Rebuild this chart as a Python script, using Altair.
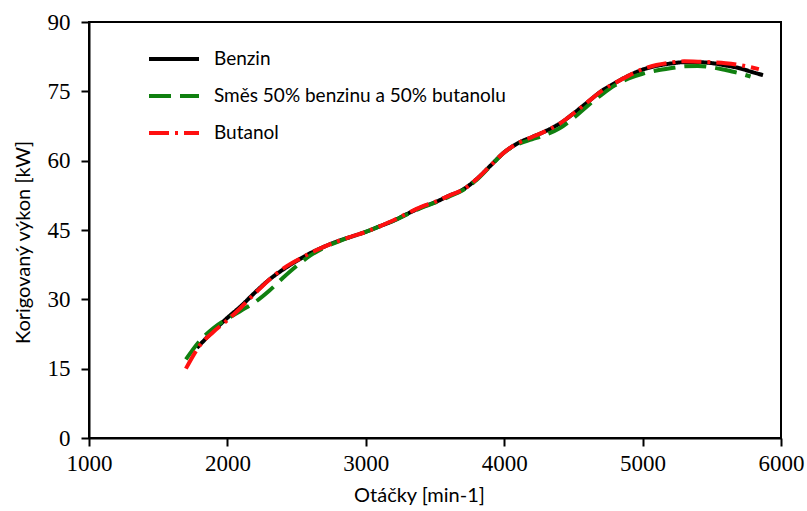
import altair as alt
import pandas as pd

series_names = ["Benzin", "Směs 50% benzinu a 50% butanolu", "Butanol"]
series_colors = ["#000000", "#108010", "#ff1010"]

benzin_rpm = [1780, 1900, 2000, 2100, 2200, 2300, 2400, 2500, 2600, 2700, 2800, 2900, 3000, 3100, 3200, 3300, 3400, 3500, 3600, 3700, 3800, 3900, 4000, 4100, 4200, 4300, 4400, 4500, 4600, 4700, 4800, 4900, 5000, 5100, 5200, 5300, 5400, 5500, 5600, 5700, 5800, 5870]
benzin_kw = [19.5, 23.2, 26.0, 28.6, 31.5, 34.2, 36.4, 38.3, 40.0, 41.4, 42.6, 43.6, 44.6, 45.8, 47.0, 48.5, 49.9, 51.0, 52.4, 53.7, 56.0, 58.9, 61.8, 63.8, 65.1, 66.4, 68.0, 70.2, 72.6, 75.0, 76.8, 78.4, 79.7, 80.5, 81.0, 81.3, 81.3, 81.1, 80.6, 80.0, 79.1, 78.5]

smes_rpm = [1700, 1800, 1900, 2000, 2100, 2200, 2300, 2400, 2500, 2600, 2700, 2800, 2900, 3000, 3100, 3200, 3300, 3400, 3500, 3600, 3700, 3800, 3900, 4000, 4100, 4200, 4300, 4400, 4500, 4600, 4700, 4800, 4900, 5000, 5100, 5200, 5300, 5400, 5500, 5600, 5700, 5780]
smes_kw = [17.0, 21.0, 23.8, 25.8, 27.6, 29.4, 31.8, 34.6, 37.2, 39.5, 41.2, 42.5, 43.6, 44.6, 45.8, 47.0, 48.4, 49.8, 50.9, 52.2, 53.6, 55.8, 58.8, 61.8, 63.6, 64.6, 65.6, 67.0, 69.2, 71.8, 74.2, 76.3, 77.8, 78.8, 79.5, 80.0, 80.4, 80.5, 80.2, 79.6, 78.9, 78.2]

butanol_rpm = [1700, 1800, 1900, 2000, 2100, 2200, 2300, 2400, 2500, 2600, 2700, 2800, 2900, 3000, 3100, 3200, 3300, 3400, 3500, 3600, 3700, 3800, 3900, 4000, 4100, 4200, 4300, 4400, 4500, 4600, 4700, 4800, 4900, 5000, 5100, 5200, 5300, 5400, 5500, 5600, 5700, 5840]
butanol_kw = [15.0, 20.0, 23.0, 25.5, 28.3, 31.3, 34.2, 36.6, 38.4, 40.0, 41.4, 42.6, 43.6, 44.6, 45.8, 47.1, 48.6, 50.0, 51.1, 52.4, 53.7, 56.0, 58.9, 61.8, 63.8, 65.1, 66.4, 68.0, 70.2, 72.6, 75.0, 76.8, 78.4, 79.8, 80.7, 81.2, 81.5, 81.4, 81.3, 81.1, 80.7, 79.8]

x_ticks = [1000, 2000, 3000, 4000, 5000, 6000]
y_ticks = [0, 15, 30, 45, 60, 75, 90]

frames = []
for name, xs, ys in [(series_names[0], benzin_rpm, benzin_kw),
                     (series_names[1], smes_rpm, smes_kw),
                     (series_names[2], butanol_rpm, butanol_kw)]:
    frames.append(pd.DataFrame({"rpm": xs, "kw": ys, "serie": name}))
df = pd.concat(frames, ignore_index=True)

tick_font = "Liberation Serif"

lines = alt.Chart(df).mark_line(interpolate="monotone", strokeWidth=4, strokeCap="butt").encode(
    x=alt.X("rpm:Q", scale=alt.Scale(domain=[1000, 6000], nice=False),
            axis=alt.Axis(values=x_ticks, format="d", title="Otáčky [min-1]", grid=False,
                          titleX=330, labelFlush=False, labelPadding=6, titlePadding=10,
                          labelFont=tick_font, labelFontSize=23)),
    y=alt.Y("kw:Q", scale=alt.Scale(domain=[0, 90], nice=False),
            axis=alt.Axis(values=y_ticks, format="d", title="Korigovaný výkon [kW]", grid=False,
                          titleY=220, labelFlush=False, labelPadding=11, titlePadding=14,
                          labelFont=tick_font, labelFontSize=23)),
    color=alt.Color("serie:N", scale=alt.Scale(domain=series_names, range=series_colors),
                    legend=alt.Legend(title=None, orient="none", legendX=58, legendY=10,
                                      symbolType="stroke", symbolSize=2500, symbolStrokeWidth=4,
                                      labelFont="Lato", labelFontSize=19, labelColor="#000000",
                                      labelLimit=0, rowPadding=-16, labelOffset=13)),
    strokeDash=alt.StrokeDash("serie:N", scale=alt.Scale(domain=series_names,
                                                          range=[[1, 0], [22, 9], [20, 6, 3, 6]]),
                              legend=None),
    order=alt.Order("rpm:Q"),
)

chart = lines.properties(
    width=692, height=416,
    autosize=alt.AutoSizeParams(type="none"),
    padding={"left": 89, "top": 22, "right": 26, "bottom": 73},
).configure_view(stroke="#000000", strokeWidth=2).configure_axis(
    domainColor="#000000", domainWidth=2, tickColor="#000000", tickWidth=2, tickSize=8,
    labelColor="#000000",
    titleFont="Lato", titleFontSize=20, titleFontWeight="normal", titleColor="#000000",
)

chart.save("out.html", embed_options={"renderer": "svg", "actions": False})
